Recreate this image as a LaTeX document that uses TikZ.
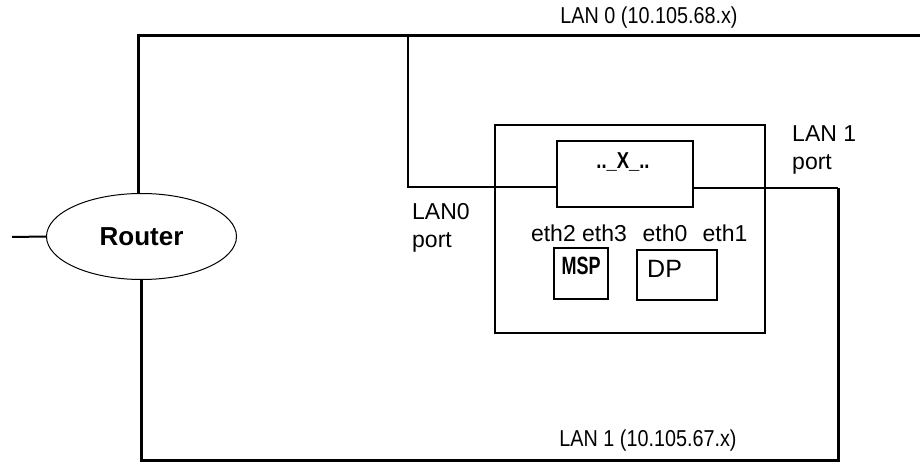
\documentclass[tikz,border=0pt]{standalone}
\usepackage{fontspec}
\setmainfont{Liberation Sans}
\usetikzlibrary{shapes.geometric}
\begin{document}
\begin{tikzpicture}[x=1pt,y=-1pt,
  lan/.style={line width=3pt},
  port/.style={line width=2pt},
  box/.style={draw, line width=2pt, inner sep=0pt},
  lbl/.style={font=\fontsize{23}{28}\selectfont, inner sep=0pt},
  narrow/.style={font=\bfseries\fontsize{24}{28}\selectfont, inner sep=0pt}]
\useasboundingbox (0,0) rectangle (920,462);
% router
\node[draw, ellipse, line width=1pt, minimum width=190pt, minimum height=86pt, font=\bfseries\fontsize{26}{30}\selectfont] (router) at (141.5,236.5) {Router};
% device
\node[box, minimum width=270pt, minimum height=208pt] (dev) at (630,229) {};
\node[box, minimum width=136pt, minimum height=66pt] (xbox) at (625,174) {};
\node[narrow, font=\bfseries\fontsize{23}{27}\selectfont] (xname) at (623,162) {\scalebox{0.8}[1]{..\_X\_..}};
\node[lbl, anchor=base] (eth23) at (579,242) {eth2 eth3};
\node[lbl, anchor=base] (eth0) at (665,242) {eth0};
\node[lbl, anchor=base] (eth1) at (725,242) {eth1};
\node[box, minimum width=54pt, minimum height=51pt] (msp) at (581,273.5) {};
\node[narrow, font=\bfseries\fontsize{25}{29}\selectfont] (mspname) at (581,266) {\scalebox{0.72}[1]{MSP}};
\node[box, minimum width=80pt, minimum height=50pt] (dp) at (677,275) {};
\node[lbl, anchor=west, font=\fontsize{25}{29}\selectfont] (dpname) at (647,269) {DP};
% lan labels
\node[lbl] (lan0) at (649,18) {\scalebox{0.86}[1]{LAN 0 (10.105.68.x)}};
\node[lbl] (lan1) at (648,441) {\scalebox{0.86}[1]{LAN 1 (10.105.67.x)}};
\node[lbl, anchor=west, align=left] (port0) at (412,228) {LAN0\\port};
\node[lbl, anchor=west, align=left] (port1) at (792,150) {LAN 1\\port};
% wires
\coordinate (lan0w) at (138,36);
\coordinate (lan0e) at (920,36);
\coordinate (tap0) at (408,36);
\coordinate (p0) at (408,187);
\coordinate (p1) at (838,188);
\coordinate (lan1w) at (141.5,460);
\coordinate (ext) at (12,237);
\draw[lan] (lan0e) -- (lan0w) -- (lan0w |- router.north);
\draw[port] (tap0) -- (p0) -- (p0 -| xbox.west);
\draw[port] (xbox.east |- p1) -- (p1);
\draw[lan] (p1) -- (p1 |- lan1w) -- (lan1w) -- (router.south);
\draw[port] (ext) -- (router.west);
\end{tikzpicture}
\end{document}
